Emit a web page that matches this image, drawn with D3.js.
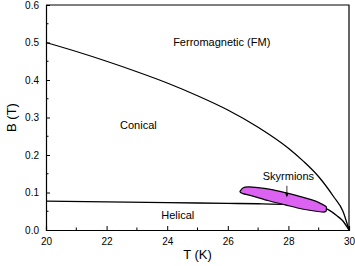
<!DOCTYPE html>
<html>
<head>
<meta charset="utf-8">
<script src="https://cdn.jsdelivr.net/npm/d3@7"></script>
<style>
body { margin: 0; background: #fff; }
text { font-family: "Liberation Sans", Arial, sans-serif; fill: #000; }
</style>
</head>
<body>
<svg id="chart" width="355" height="266"></svg>
<script>
// phase boundaries (T in K, B in T)
var fmT = [20, 21, 22, 23, 24, 25, 26, 27, 28, 28.5, 29, 29.5, 29.8, 30];
var fmB = [0.5, 0.476, 0.450, 0.422, 0.392, 0.358, 0.320, 0.274, 0.218, 0.183, 0.142, 0.088, 0.050, 0.0];

var helT = [20, 22, 24, 26, 27, 28, 28.5, 29, 29.3, 29.6, 29.8, 30];
var helB = [0.077, 0.075, 0.073, 0.071, 0.070, 0.068, 0.066, 0.062, 0.055, 0.038, 0.024, 0.0];

// skyrmion pocket outline (upper edge then lower edge back)
var skyT = [26.40, 26.5, 26.67, 27.0, 27.5, 27.9, 28.4, 28.9, 29.15, 29.25, 29.24, 29.1, 28.45, 27.9, 27.35, 26.8, 26.5];
var skyB = [0.102, 0.112, 0.115, 0.113, 0.107, 0.0995, 0.089, 0.077, 0.067, 0.062, 0.050, 0.048, 0.056, 0.067, 0.078, 0.091, 0.097];

var xTicks = [20, 22, 24, 26, 28, 30];
var yTicks = [0.0, 0.1, 0.2, 0.3, 0.4, 0.5, 0.6];

var labels = [
    {text: "Ferromagnetic (FM)", T: 25.8, B: 0.49},
    {text: "Conical", T: 23.05, B: 0.27},
    {text: "Helical", T: 24.35, B: 0.03},
    {text: "Skyrmions", T: 28.0, B: 0.133}
];

var svg = d3.select("#chart");
var margin = {left: 46, top: 5, right: 6, bottom: 36};
var width = 355 - margin.left - margin.right;
var height = 266 - margin.top - margin.bottom;

var x = d3.scaleLinear().domain([20, 30]).range([0, width]);
var y = d3.scaleLinear().domain([0, 0.6]).range([height, 0]);

var g = svg.append("g").attr("transform", "translate(" + margin.left + "," + margin.top + ")");

// frame (top and right)
g.append("path")
    .attr("d", "M0,0H" + width + "V" + height)
    .attr("fill", "none").attr("stroke", "#000").attr("stroke-width", 1.2);

var phaseLine = d3.line().x(d => x(d[0])).y(d => y(d[1])).curve(d3.curveMonotoneX);

g.append("path")
    .attr("d", phaseLine(fmT.map((t, i) => [t, fmB[i]])))
    .attr("fill", "none").attr("stroke", "#000").attr("stroke-width", 1.3);

g.append("path")
    .attr("d", phaseLine(helT.map((t, i) => [t, helB[i]])))
    .attr("fill", "none").attr("stroke", "#000").attr("stroke-width", 1.3);

// skyrmion pocket
var pocketLine = d3.line().x(d => x(d[0])).y(d => y(d[1])).curve(d3.curveCardinalClosed.tension(0.3));
g.append("path")
    .attr("d", pocketLine(skyT.map((t, i) => [t, skyB[i]])))
    .attr("fill", "#dc62f2").attr("stroke", "#000").attr("stroke-width", 1.2);

// x axis, ticks pointing inward
var xAxis = g.append("g").attr("transform", "translate(0," + height + ")");
xAxis.call(d3.axisBottom(x).tickValues(xTicks).tickSize(-4).tickPadding(8).tickFormat(d3.format("d")));
xAxis.selectAll(".tick text").style("font-size", "10px");
xAxis.append("g").selectAll("line")
    .data(d3.range(21, 30, 2))
    .enter().append("line")
    .attr("x1", d => x(d)).attr("x2", d => x(d))
    .attr("y1", 0).attr("y2", -2.5)
    .attr("stroke", "#000");

var yAxis = g.append("g");
yAxis.call(d3.axisLeft(y).tickValues(yTicks).tickSize(-4).tickPadding(7).tickFormat(d3.format(".1f")));
yAxis.selectAll(".tick text").style("font-size", "10px");
yAxis.append("g").selectAll("line")
    .data(d3.range(0.05, 0.6, 0.1))
    .enter().append("line")
    .attr("x1", 0).attr("x2", 2.5)
    .attr("y1", d => y(d)).attr("y2", d => y(d))
    .attr("stroke", "#000");

g.selectAll(".domain").attr("stroke-width", 1.2);

// axis titles
svg.append("text").text("T (K)")
    .attr("x", margin.left + width / 2).attr("y", 259)
    .attr("text-anchor", "middle").style("font-size", "13px");
svg.append("text").text("B (T)")
    .attr("transform", "translate(16," + (margin.top + height / 2) + ") rotate(-90)")
    .attr("text-anchor", "middle").style("font-size", "13px");

// region labels
g.selectAll(".lbl")
    .data(labels)
    .enter().append("text")
    .attr("class", "lbl")
    .text(d => d.text)
    .attr("x", d => x(d.T)).attr("y", d => y(d.B))
    .attr("text-anchor", "middle")
    .style("font-size", "11px");

// small arrow pointing into the pocket
var ax = x(27.95);
g.append("line")
    .attr("x1", ax).attr("x2", ax)
    .attr("y1", y(0.118)).attr("y2", y(0.09))
    .attr("stroke", "#000").attr("stroke-width", 0.8);
g.append("path")
    .attr("d", "M" + (ax - 1.8) + "," + (y(0.09) - 3) + "L" + (ax + 1.8) + "," + (y(0.09) - 3) + "L" + ax + "," + y(0.088) + "Z")
    .attr("fill", "#000");
</script>
</body>
</html>
